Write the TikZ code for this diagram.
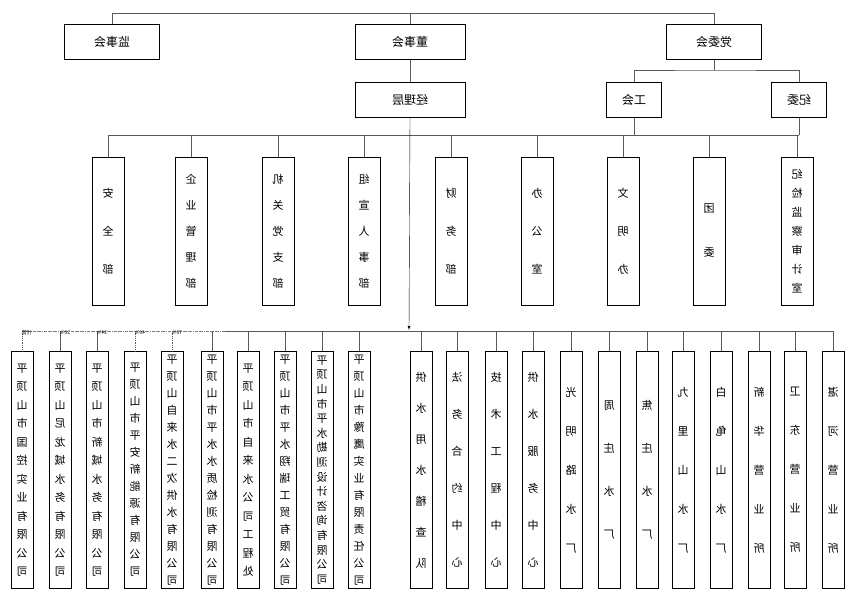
\documentclass[tikz,border=0pt]{standalone}
\usepackage{fontspec}
\setmainfont{Noto Sans CJK SC}
\XeTeXlinebreaklocale "zh"
\XeTeXlinebreakskip=0pt plus 1pt
\usetikzlibrary{positioning}
% mirrored text, as in the reference
\newcommand\mtxt[1]{\reflectbox{#1}}
\newcommand\vtxt[2]{\reflectbox{\parbox{1.1em}{\centering\setlength\baselineskip{#1}#2\par}}}
\begin{document}
\begin{tikzpicture}[x=1pt,y=-1pt,font=\fontsize{11}{13}\selectfont,
    top box/.style={draw,minimum width=95pt,minimum height=35pt,inner sep=0pt,font=\fontsize{12}{14}\selectfont},
    dept box/.style={draw,minimum width=32pt,minimum height=148pt,inner sep=0pt},
    unit box/.style={draw,minimum width=22pt,minimum height=237pt,inner sep=0pt},
    line/.style={draw,gray!70!black,thick}]

\useasboundingbox (0,0) rectangle (859,596);

\node[top box] at (112,42) (jsh) {\mtxt{监事会}};
\node[top box,minimum width=110pt] at (410,42) (dsh) {\mtxt{董事会}};
\node[top box] at (714,42) (dwh) {\mtxt{党委会}};
\node[top box,minimum width=110pt] at (410,100) (jlc) {\mtxt{经理层}};
\node[top box,minimum width=55pt] at (634,100) (gh) {\mtxt{工会}};
\node[top box,minimum width=55pt] at (799,100) (jw) {\mtxt{纪委}};

\coordinate (t1) at (112,13);
\coordinate (t2) at (714,13);
\draw[line] (jsh.north) -- (t1) -- (t2) -- (dwh.north);
\draw[line] (dsh.north) -- (410,13);
\draw[line] (dsh) -- (jlc);
\draw[line] (dwh.south) -- (714,70) coordinate (p0);
\draw[line] (gh.north) |- (p0) -| (jw.north);

% departments
\coordinate (dl) at (108,135);
\coordinate (dr) at (799,135);
\draw[line] (dl) -- (dr);
\draw[line] (gh.south) -- (gh.south |- dl);
\draw[line] (jw.south) -- (jw.south |- dl);
\foreach \x/\n/\s/\t in {108/d1/38pt/安全部, 191/d2/26pt/企业管理部, 278/d3/26pt/机关党支部,
    364/d4/26pt/组宣人事部, 451/d5/38pt/财务部, 537/d6/38pt/办公室, 623/d7/38pt/文明办,
    709/d8/44pt/团委, 797/d9/19pt/纪检监察审计室} {
  \node[dept box] at (\x,231) (\n) {\vtxt{\s}{\t}};
  \draw[line] (\n.north) -- (\n.north |- dl);
}

% units
\draw[-latex] (jlc.south) -- (409,330);
\coordinate (ul) at (22,331);
\coordinate (um) at (225,331);
\coordinate (ur) at (833,331);
\draw[densely dash dot,gray] (ul) -- (um);
\draw[line] (um) -- (ur);
\foreach \x/\n/\s/\t/\st in {22/u1/18.5pt/平顶山市国控实业有限公司/densely dotted,
    60/u2/18.5pt/平顶山尼龙城水务有限公司/solid, 97/u3/18.5pt/平顶山市新城水务有限公司/solid,
    135/u4/17pt/平顶山市平安新能源有限公司/densely dotted,
    172/u5/17pt/平顶山自来水二次供水有限公司/densely dotted,
    212/u6/17pt/平顶山市平水水质检测有限公司/solid, 248/u7/18.5pt/平顶山市自来水公司工程处/solid,
    285/u8/17pt/平顶山市平水翔瑞工贸有限公司/solid,
    322/u9/14.6pt/平顶山市平水勘测设计咨询有限公司/solid,
    359/u10/17pt/平顶山市豫鹰实业有限责任公司/solid,
    421/u11/31pt/供水用水稽查队/solid, 457/u12/37pt/法务合约中心/solid,
    496/u13/37pt/技术工程中心/solid, 533/u14/37pt/供水服务中心/solid,
    571/u15/39pt/光明路水厂/solid, 609/u16/43pt/周庄水厂/solid, 647/u17/43pt/焦庄水厂/solid,
    683/u18/39pt/九里山水厂/solid, 721/u19/39pt/白龟山水厂/solid, 759/u20/39pt/新华营业所/solid,
    795/u21/39pt/卫东营业所/solid, 833/u22/39pt/湛河营业所/solid} {
  \node[unit box] at (\x,470) (\n) {\vtxt{\s}{\t}};
  \draw[line,\st] (\n.north) -- (\n.north |- ul);
}

% shares
\foreach \n/\t in {u1/代管, u2/20\%, u3/34\%, u4/40\%, u5/70\%}
  \node[font=\tiny,inner sep=0pt,anchor=south,xshift=5pt] at ([yshift=-4pt]\n.north |- ul) {\mtxt{\t}};
\end{tikzpicture}
\end{document}
